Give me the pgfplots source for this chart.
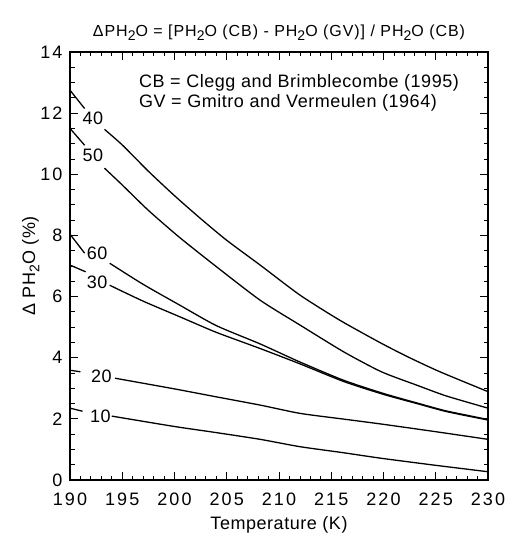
\documentclass[border=0pt]{standalone}
\usepackage{fontspec}
\setmainfont{Liberation Sans}[LetterSpace=3]
\newfontfamily\tickfont{Liberation Sans}[LetterSpace=12]
\newfontfamily\titlefont{Liberation Sans}[LetterSpace=6]
\usepackage{pgfplots}
\pgfplotsset{compat=1.18}
\newcommand{\sub}[1]{\raisebox{-0.45ex}{\fontsize{14}{16}\selectfont #1}}
\begin{document}
\begin{tikzpicture}[font=\fontsize{18}{21}\selectfont]
\begin{axis}[
  scale only axis, width=418pt, height=428pt,
  xmin=190, xmax=230, ymin=0, ymax=14,
  xtick={190,195,...,230}, minor x tick num=4,
  ytick={0,2,...,14}, minor y tick num=3,
  tick align=inside, major tick length=8pt, minor tick length=4.5pt,
  every tick/.style={black, line width=0.8pt},
  axis line style={line width=1.3pt},
  /pgf/number format/assume math mode=true,
  ticklabel style={font=\tickfont\fontsize{18}{20}\selectfont},
  xticklabel style={yshift=-9pt},
  yticklabel style={xshift=-4pt},
  xlabel={Temperature (K)},
  ylabel={Δ PH\sub{2}O (\%)},
  xlabel style={yshift=-4pt},
  ylabel style={yshift=-6pt},
  title={\titlefont\fontsize{16}{19}\selectfont ΔPH\sub{2}O = [PH\sub{2}O (CB) - PH\sub{2}O (GV)] / PH\sub{2}O (CB)},
  title style={yshift=2pt},
  cycle list={{black, solid}},
  every axis plot/.append style={line width=1.3pt, line join=round, smooth, tension=0.4},
  no marks,
]
% 40
\addplot coordinates {(190,12.75) (191.4,12.15)};
\addplot coordinates {(193.3,11.47) (195,10.96) (197.5,10.1) (200,9.30) (202.5,8.55) (205,7.84) (208.2,7.03) (212,6.05) (215.8,5.23) (219.8,4.47) (222.5,4.0) (225.4,3.54) (230,2.89)};
% 50
\addplot coordinates {(190,11.5) (191.4,10.95)};
\addplot coordinates {(193.3,10.2) (195,9.65) (197.5,8.82) (200.5,7.93) (204,6.98) (208.2,5.88) (212,5.07) (216.2,4.19) (219.8,3.54) (223.2,3.10) (226,2.75) (230,2.35)};
% 60
\addplot coordinates {(190,8.04) (191.4,7.42)};
\addplot coordinates {(193.8,7.09) (197,6.4) (200.5,5.72) (204,5.05) (208.2,4.45) (212,3.86) (216.2,3.26) (220,2.83) (223.2,2.52) (226,2.26) (230,1.98)};
% 30
\addplot coordinates {(190,7.03) (191.5,6.81)};
\addplot coordinates {(193.8,6.37) (197,5.85) (200.5,5.34) (204,4.83) (208.2,4.30) (212,3.80) (216.2,3.22) (220,2.80) (223.2,2.50) (226,2.24) (230,1.96)};
% 20
\addplot coordinates {(190,3.59) (191,3.54)};
\addplot coordinates {(194.3,3.33) (200,2.98) (204,2.72) (208.2,2.45) (212,2.18) (216,2.00) (219.8,1.83) (225,1.58) (230,1.33)};
% 10
\addplot coordinates {(190,2.35) (191.2,2.25)};
\addplot coordinates {(194,2.09) (200,1.75) (204,1.55) (208.2,1.33) (212,1.09) (216,0.90) (219.8,0.71) (225,0.48) (230,0.27)};
\node at (axis cs:192.2,11.83) {40};
\node at (axis cs:192.2,10.62) {50};
\node at (axis cs:192.6,7.41) {60};
\node at (axis cs:192.6,6.48) {30};
\node at (axis cs:193.0,3.38) {20};
\node at (axis cs:192.9,2.07) {10};
\node[anchor=base west, inner sep=0pt] at (axis cs:196.6,12.84) {CB = Clegg and Brimblecombe (1995)};
\node[anchor=base west, inner sep=0pt] at (axis cs:196.6,12.19) {GV = Gmitro and Vermeulen (1964)};
\end{axis}
\pgfresetboundingbox
\path ([xshift=-70pt,yshift=-58pt]current axis.south west) rectangle ([xshift=17pt,yshift=52pt]current axis.north east);
\end{tikzpicture}
\end{document}
